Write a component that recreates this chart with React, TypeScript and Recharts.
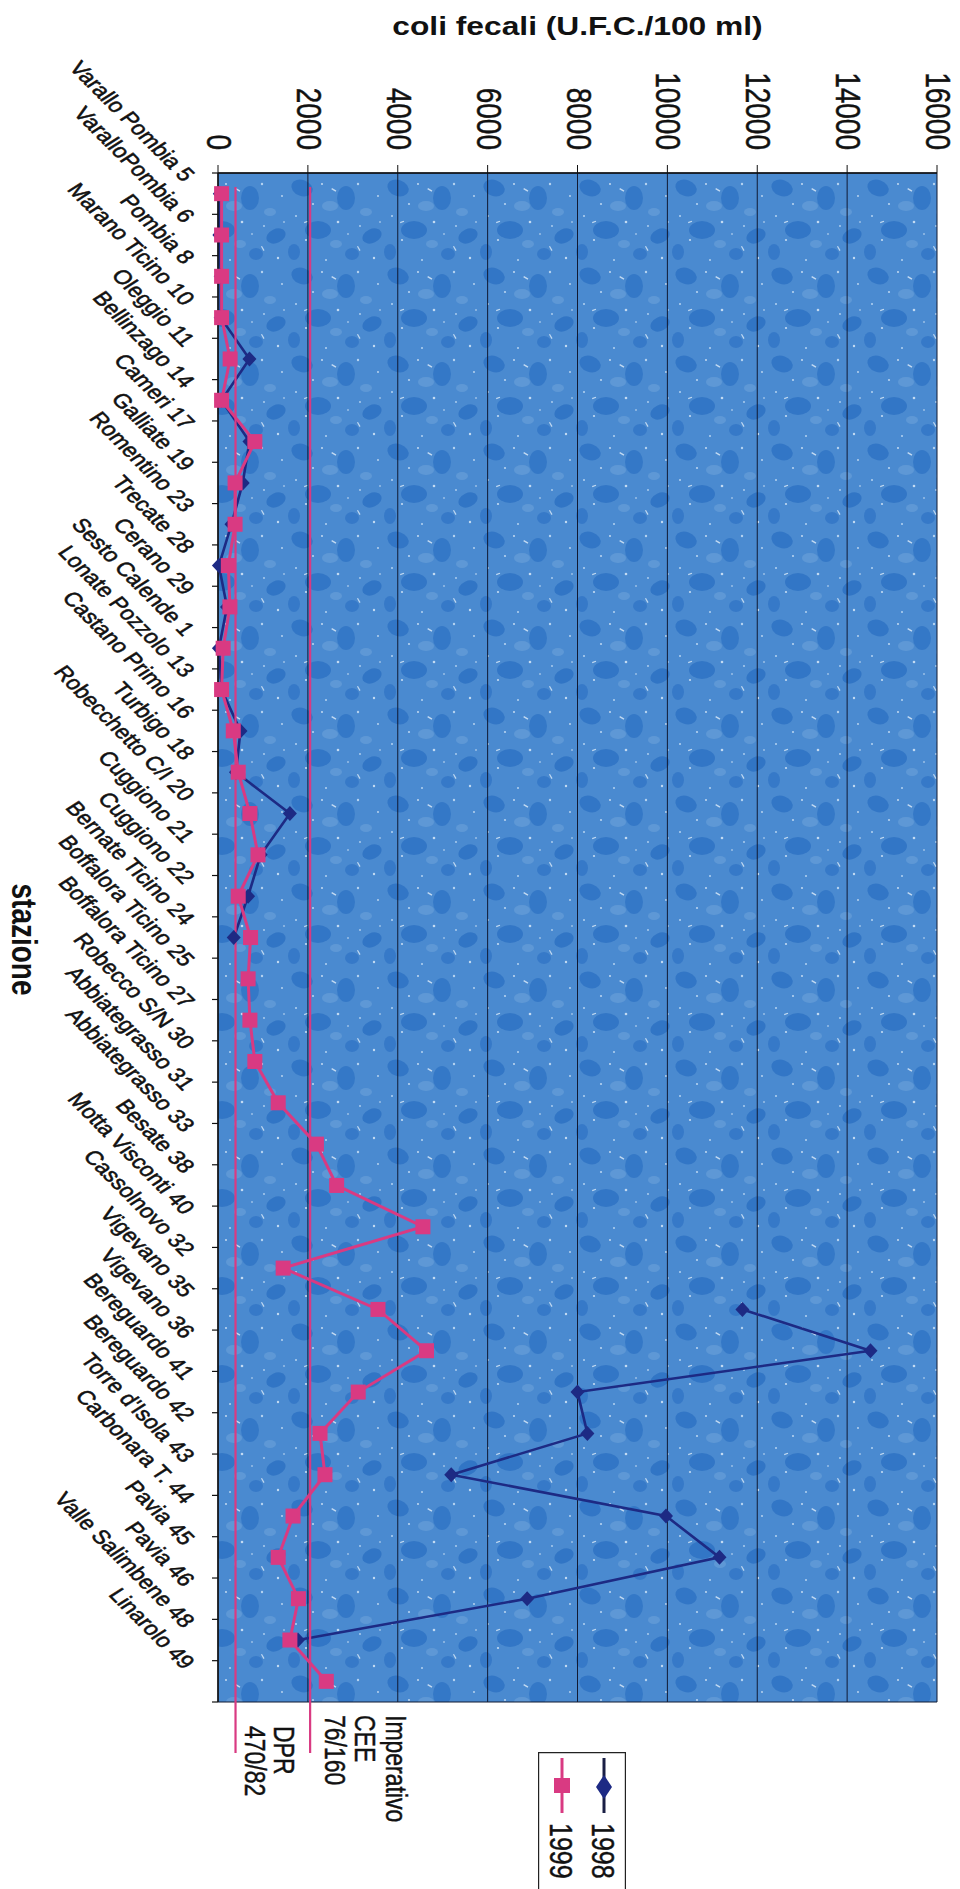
import React from "react";
import { CartesianGrid, Legend, Line, LineChart, ReferenceLine, XAxis, YAxis } from "recharts";

// stations along the Ticino, top to bottom as printed
const stations = [
  "Varallo Pombia 5", "VaralloPombia 6", "Pombia 8", "Marano Ticino 10", "Oleggio 11",
  "Bellinzago 14", "Cameri 17", "Galliate 19", "Romentino 23", "Trecate 28", "Cerano 29",
  "Sesto Calende 1", "Lonate Pozzolo 13", "Castano Primo 16", "Turbigo 18", "Robecchetto C/I 20",
  "Cuggiono 21", "Cuggiono 22", "Bernate Ticino 24", "Boffalora Ticino 25", "Boffalora Ticino 27",
  "Robecco S/N 30", "Abbiategrasso 31", "Abbiategrasso 33", "Besate 38", "Motta Visconti 40",
  "Cassolnovo 32", "Vigevano 35", "Vigevano 36", "Bereguardo 41", "Bereguardo 42",
  "Torre d'Isola 43", "Carbonara T. 44", "Pavia 45", "Pavia 46", "Valle Salimbene 48", "Linarolo 49",
];

const coli1998 = [
  40, 30, 60, 60, 700, 80, 700, 550, 300, 20, 200, 20, 80, 500, 400, 1600, 950, 670, 350,
  null, null, null, null, null, null, null, null,
  11670, 14520, 8000, 8220, 5190, 9970, 11160, 6880, 1780, null,
];

const coli1999 = [
  80, 80, 80, 80, 270, 80, 820, 380, 380, 230, 265, 115, 80, 340, 450, 710, 890, 450, 725,
  670, 710, 820, 1340, 2190, 2640, 4560, 1450, 3560, 4640, 3120, 2270, 2380, 1670, 1340,
  1790, 1600, 2410,
];

const valueTicks = [0, 2000, 4000, 6000, 8000, 10000, 12000, 14000, 16000];
const dprLimit = 390;
const ceeLimit = 2050;

// 1998 has a gap in the middle; each unbroken run gets its own key so the line breaks there
const run1998: number[] = [];
coli1998.forEach((v, i) => {
  const prev = i > 0 ? run1998[i - 1] : 0;
  run1998.push(v == null && i > 0 && coli1998[i - 1] != null ? prev + 1 : prev);
});

const data = stations.map((station, i) => {
  const row: Record<string, any> = { station, y1999: coli1999[i] };
  if (coli1998[i] != null) row[`y1998_${run1998[i]}`] = coli1998[i];
  return row;
});

const FONT = '"Liberation Sans", Arial, Helvetica, sans-serif';
const PINK = "#d93a82";
const NAVY = "#1d2a84";
// the scan is stretched sideways, so glyphs get a little wider along page x
const STRETCH = 1.25;

const ValueTick = (props: any) => {
  const { x, y, payload } = props;
  return (
    <text
      transform={`translate(${x - 11},${y - 13}) rotate(90) scale(1,${STRETCH})`}
      textAnchor="end"
      fontSize={28}
      fontFamily={FONT}
      fill="#111"
      stroke="#111"
      strokeWidth={0.4}
    >
      {payload.value}
    </text>
  );
};

const StationTick = (props: any) => {
  const { x, y, payload, index } = props;
  const half = payload.offset || 20.7;
  return (
    <g>
      <line x1={x + 2} x2={x + 8} y1={y + half} y2={y + half} stroke="#111" strokeWidth={1.2} />
      {index === 0 && <line x1={x + 2} x2={x + 8} y1={y - half} y2={y - half} stroke="#111" strokeWidth={1.2} />}
      <text
        transform={`matrix(0.781 0.781 -0.976 0.625 ${x - 27} ${y - 11})`}
        textAnchor="end"
        fontSize={19.5}
        fontFamily={FONT}
        fill="#111"
        stroke="#111"
        strokeWidth={0.5}
      >
        {payload.value}
      </text>
    </g>
  );
};

const SquareDot = (p: any) => {
  const { cx, cy, index } = p;
  if (cx == null || cy == null || Number.isNaN(cx)) return <g key={`sq${index}`} />;
  return <rect key={`sq${index}`} x={cx - 7.5} y={cy - 7.5} width={15} height={15} fill={PINK} />;
};

const DiamondDot = (p: any) => {
  const { cx, cy, index, dataKey } = p;
  if (cx == null || cy == null || Number.isNaN(cx)) return <g key={`dm${dataKey}${index}`} />;
  return (
    <path
      key={`dm${dataKey}${index}`}
      d={`M${cx},${cy - 7.5} L${cx + 7},${cy} L${cx},${cy + 7.5} L${cx - 7},${cy} Z`}
      fill={NAVY}
    />
  );
};

const limitShape = (lines: string[], dx: number[], startY: number) => (p: any) => {
  const top = Math.min(p.y1, p.y2);
  const bottom = Math.max(p.y1, p.y2);
  return (
    <g>
      <line x1={p.x1} x2={p.x1} y1={top + 14} y2={bottom + 51} stroke={PINK} strokeWidth={2.2} />
      {lines.map((t, i) => (
        <text
          key={t}
          transform={`translate(${p.x1 + dx[i]},${bottom + startY}) rotate(90) scale(1,${STRETCH})`}
          textAnchor="start"
          fontSize={23}
          fontFamily={FONT}
          fill="#111"
          stroke="#111"
          strokeWidth={0.35}
        >
          {t}
        </text>
      ))}
    </g>
  );
};

const TitleLabel = (props: any) => {
  const vb = props.viewBox || { x: 218, y: 0, width: 719 };
  return (
    <text
      transform={`translate(${vb.x + vb.width / 2},${vb.y + 35}) scale(1.27,1)`}
      textAnchor="middle"
      fontSize={25}
      fontWeight="bold"
      fontFamily={FONT}
      fill="#111"
    >
      coli fecali (U.F.C./100 ml)
    </text>
  );
};

const StazioneLabel = (props: any) => {
  const vb = props.viewBox || { x: 0, y: 173, width: 218, height: 1529 };
  return (
    <text
      transform={`translate(${vb.x + 12},${vb.y + vb.height / 2 + 2}) rotate(90) scale(1,${STRETCH})`}
      textAnchor="middle"
      fontSize={28}
      fontWeight="bold"
      fontFamily={FONT}
      fill="#111"
    >
      stazione
    </text>
  );
};

const LegendBox = (props: any) => {
  const { payload = [] } = props;
  const items = payload.filter((e: any) => e.type !== "none");
  return (
    <svg width={88} height={137} style={{ display: "block" }}>
      <path d="M0.6,137 V0.6 H87.4 V137" fill="#fff" stroke="#222" strokeWidth={1.2} />
      {items.map((entry: any, i: number) => {
        const cx = 66 - 42 * i;
        return (
          <g key={entry.value}>
            <line x1={cx} x2={cx} y1={6} y2={61} stroke={i === 0 ? "#1a1f45" : entry.color} strokeWidth={3} />
            {i === 0 ? (
              <path d={`M${cx},${23} L${cx + 8},${35} L${cx},${47} L${cx - 8},${35} Z`} fill={NAVY} />
            ) : (
              <rect x={cx - 8} y={26} width={16} height={15} fill={PINK} />
            )}
            <text
              transform={`translate(${cx - 12},71) rotate(90) scale(1,${STRETCH})`}
              fontSize={25}
              fontFamily={FONT}
              fill="#111"
              stroke="#111"
              strokeWidth={0.35}
            >
              {entry.value}
            </text>
          </g>
        );
      })}
    </svg>
  );
};

export default function App() {
  return (
    <div style={{ position: "absolute", left: 0, top: 0, width: 960, height: 1889, background: "#fff" }}>
      <LineChart
        width={960}
        height={1889}
        data={data}
        layout="vertical"
        margin={{ top: 0, right: 23, bottom: 187, left: 0 }}
      >
        <defs>
          {/* mottled paper-like fill of the plot area */}
          <pattern id="mottle" width="96" height="88" patternUnits="userSpaceOnUse">
            <rect width="96" height="88" fill="#4a8ad0" />
            <ellipse cx="14" cy="12" rx="11" ry="8" fill="#3276c6" transform="rotate(20 14 12)" />
            <ellipse cx="58" cy="22" rx="9" ry="12" fill="#3478c7" />
            <ellipse cx="84" cy="60" rx="10" ry="7" fill="#3175c5" transform="rotate(-25 84 60)" />
            <ellipse cx="30" cy="54" rx="13" ry="9" fill="#3276c6" />
            <ellipse cx="64" cy="78" rx="7" ry="6" fill="#3679c8" />
            <ellipse cx="6" cy="76" rx="6" ry="8" fill="#3679c8" />
            <ellipse cx="42" cy="30" rx="8" ry="5" fill="#5e98d6" />
            <ellipse cx="78" cy="36" rx="6" ry="4" fill="#5e98d6" />
            <ellipse cx="48" cy="68" rx="6" ry="4" fill="#5e98d6" />
            <circle cx="25" cy="28" r="1.1" fill="#b4d2f0" />
            <circle cx="70" cy="8" r="1.2" fill="#b4d2f0" />
            <circle cx="90" cy="20" r="0.9" fill="#c2daf2" />
            <circle cx="8" cy="40" r="1" fill="#b4d2f0" />
            <circle cx="50" cy="46" r="1.3" fill="#c2daf2" />
            <circle cx="72" cy="50" r="0.9" fill="#b4d2f0" />
            <circle cx="18" cy="64" r="1.1" fill="#c2daf2" />
            <circle cx="38" cy="84" r="1" fill="#b4d2f0" />
            <circle cx="86" cy="82" r="1.2" fill="#c2daf2" />
            <circle cx="60" cy="58" r="0.8" fill="#d0e3f5" />
            <circle cx="34" cy="8" r="0.9" fill="#d0e3f5" />
            <circle cx="92" cy="46" r="0.8" fill="#d0e3f5" />
            <rect x="44" y="12" width="5" height="1.4" fill="#c2daf2" transform="rotate(30 44 12)" />
            <rect x="16" y="46" width="4" height="1.2" fill="#c2daf2" transform="rotate(-20 16 46)" />
            <rect x="70" y="70" width="5" height="1.2" fill="#c2daf2" transform="rotate(60 70 70)" />
          </pattern>
        </defs>
        <CartesianGrid
          fill="url(#mottle)"
          fillOpacity={1}
          stroke="#111a33"
          strokeWidth={1}
          horizontalCoordinatesGenerator={({ offset }: any) => [offset.top, offset.top + offset.height]}
        />
        <XAxis
          type="number"
          orientation="top"
          domain={[0, 16000]}
          ticks={valueTicks}
          interval={0}
          height={173}
          tickSize={8}
          tickMargin={2}
          axisLine={{ stroke: "#111", strokeWidth: 1.5 }}
          tickLine={{ stroke: "#111" }}
          tick={<ValueTick />}
          label={TitleLabel}
        />
        <YAxis
          type="category"
          dataKey="station"
          scale="band"
          width={218}
          interval={0}
          tickSize={6}
          tickMargin={2}
          tickLine={false}
          axisLine={{ stroke: "#111", strokeWidth: 1.5 }}
          tick={<StationTick />}
          label={StazioneLabel}
        />
        <Line
          dataKey="y1998_0"
          name="1998"
          stroke={NAVY}
          strokeWidth={2.6}
          dot={DiamondDot}
          activeDot={false}
          isAnimationActive={false}
        />
        <Line
          dataKey="y1998_1"
          name="1998"
          legendType="none"
          stroke={NAVY}
          strokeWidth={2.6}
          dot={DiamondDot}
          activeDot={false}
          isAnimationActive={false}
        />
        <Line
          dataKey="y1999"
          name="1999"
          stroke={PINK}
          strokeWidth={3}
          dot={SquareDot}
          activeDot={false}
          isAnimationActive={false}
        />
        <ReferenceLine x={dprLimit} ifOverflow="visible" shape={limitShape(["DPR", "470/82"], [38, 9.5], 24)} />
        <ReferenceLine
          x={ceeLimit}
          ifOverflow="visible"
          shape={limitShape(["Imperativo", "CEE", "76/160"], [76, 45, 15], 13)}
        />
        <Legend
          layout="horizontal"
          verticalAlign="middle"
          align="center"
          content={LegendBox}
          wrapperStyle={{ left: 538, top: 1752, width: 88, height: 137, overflow: "hidden" }}
        />
      </LineChart>
    </div>
  );
}
